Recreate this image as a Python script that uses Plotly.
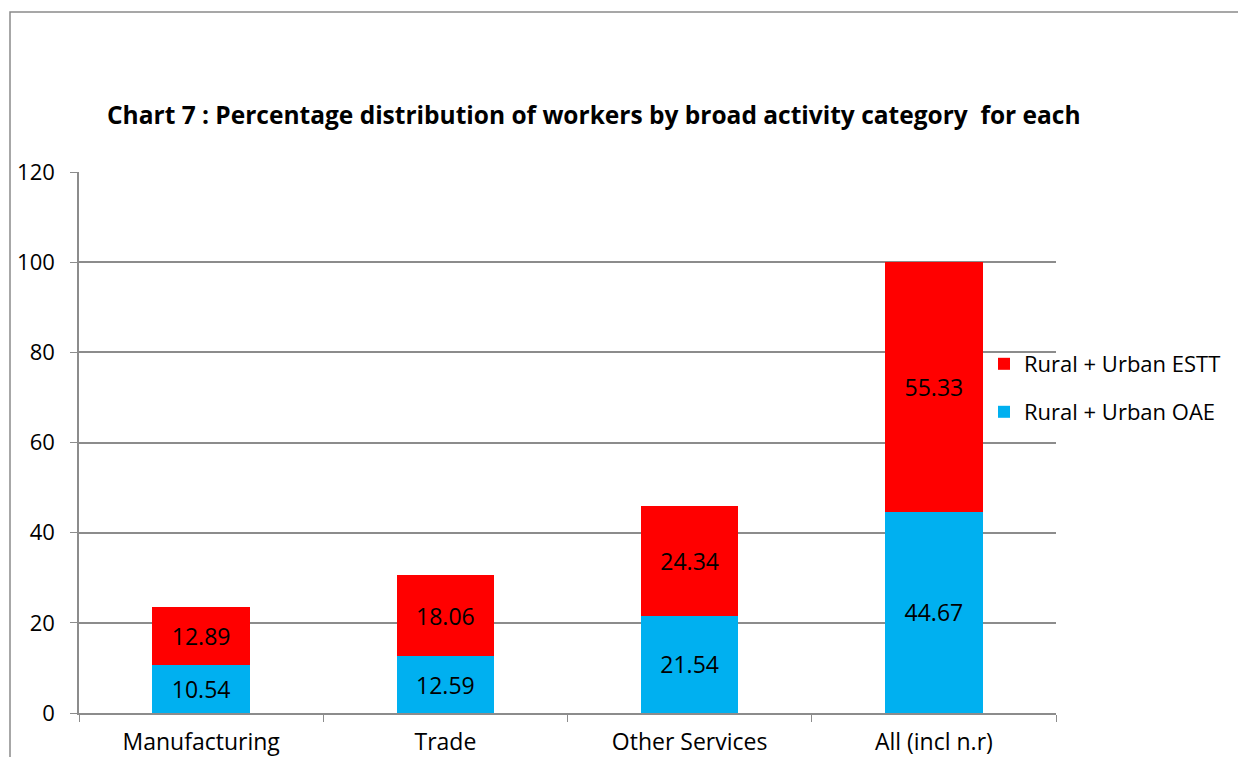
import plotly.graph_objects as go

categories = ["Manufacturing", "Trade", "Other Services", "All (incl n.r)"]
oae = [10.54, 12.59, 21.54, 44.67]
estt = [12.89, 18.06, 24.34, 55.33]
y_ticks = [0, 20, 40, 60, 80, 100, 120]

FONT = "Open Sans"
GRID = "#8c8c8c"
W, H = 1238, 749          # page has an 8px body margin
L, T = 71, 164            # plot area left/top inside the figure
PW, PH = 977, 541         # plot area size

fig = go.Figure()
fig.add_trace(go.Bar(
    x=categories, y=oae, name="Rural + Urban OAE", legend="legend2",
    marker=dict(color="#00B0F0", line=dict(width=0)),
    text=["%.2f" % v for v in oae], textposition="inside",
    insidetextanchor="middle", textangle=0,
    textfont=dict(family=FONT, size=23, color="black"),
))
fig.add_trace(go.Bar(
    x=categories, y=estt, name="Rural + Urban ESTT", legend="legend",
    marker=dict(color="#FF0000", line=dict(width=0)),
    text=["%.2f" % v for v in estt], textposition="inside",
    insidetextanchor="middle", textangle=0,
    textfont=dict(family=FONT, size=23, color="black"),
))

# outer chart border
fig.add_shape(type="rect", xref="paper", yref="paper",
              x0=(2 - L) / PW, x1=(1300 - L) / PW,
              y0=-100 / PH, y1=(T + PH - 4) / PH,
              line=dict(color="#8a8a8a", width=1.5), layer="below")

leg = dict(xref="container", xanchor="left", yref="container", yanchor="middle",
           font=dict(family=FONT, size=22), itemwidth=30,
           bgcolor="rgba(0,0,0,0)")

fig.update_layout(
    width=W, height=H,
    margin=dict(l=L, r=W - L - PW, t=T, b=H - T - PH, autoexpand=False),
    paper_bgcolor="white", plot_bgcolor="white",
    barmode="stack", bargap=0.6,
    font=dict(family=FONT, size=22, color="black"),
    title=dict(
        text="<b>Chart 7 : Percentage distribution of workers by broad activity category  for each</b>",
        x=99 / W, xref="container", xanchor="left",
        y=1 - 107 / H, yref="container", yanchor="middle",
        font=dict(family=FONT, size=24.5, color="black"),
    ),
    legend=dict(x=976 / W, y=1 - 356 / H, **leg),
    legend2=dict(x=976 / W, y=1 - 404 / H, **leg),
    showlegend=True,
    uniformtext=dict(mode="show", minsize=23),
)
fig.update_xaxes(
    showline=True, linecolor=GRID, linewidth=1.5,
    ticks="outside", tickson="boundaries", ticklen=7, tickcolor=GRID,
    showgrid=False, tickfont=dict(family=FONT, size=23),
    ticklabelstandoff=8,
)
fig.update_yaxes(
    range=[0, 120], tickvals=y_ticks,
    showline=True, linecolor=GRID, linewidth=1.5,
    ticks="outside", ticklen=7, tickcolor=GRID,
    showgrid=True, gridcolor=GRID, gridwidth=1.5, zeroline=False,
    tickfont=dict(family=FONT, size=22), ticklabelstandoff=11,
)

fig.write_html("out.html")
